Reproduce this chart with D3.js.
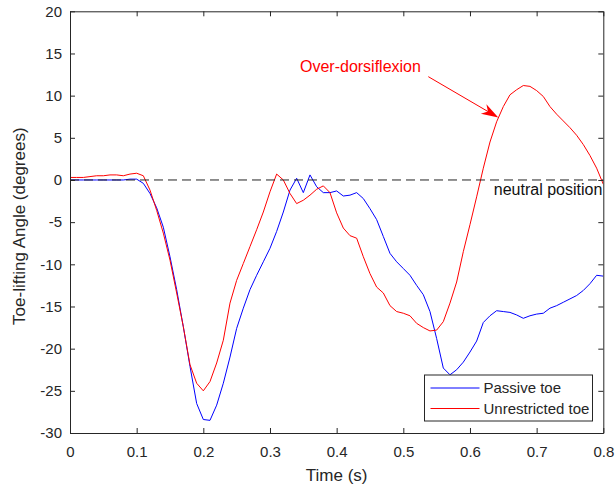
<!DOCTYPE html>
<html>
<head>
<meta charset="utf-8">
<script src="https://cdn.jsdelivr.net/npm/d3@7"></script>
<style>
body { margin: 0; background: #fff; }
svg text { font-family: "Liberation Sans", Arial, Helvetica, sans-serif; fill: #262626; }
</style>
</head>
<body>
<div class="chart"></div>
<script>
var margin = {top: 11.3, right: 12.7, bottom: 54, left: 70};
var width = 616 - margin.left - margin.right;
var height = 487 - margin.top - margin.bottom;

// sample times (s)
const times = [0.00, 0.01, 0.02, 0.03, 0.04, 0.05, 0.06, 0.07, 0.08, 0.09,
    0.10, 0.11, 0.12, 0.13, 0.14, 0.15, 0.16, 0.17, 0.18, 0.19,
    0.20, 0.21, 0.22, 0.23, 0.24, 0.25, 0.26, 0.27, 0.28, 0.29,
    0.30, 0.31, 0.32, 0.33, 0.34, 0.35, 0.36, 0.37, 0.38, 0.39,
    0.40, 0.41, 0.42, 0.43, 0.44, 0.45, 0.46, 0.47, 0.48, 0.49,
    0.50, 0.51, 0.52, 0.53, 0.54, 0.55, 0.56, 0.57, 0.58, 0.59,
    0.60, 0.61, 0.62, 0.63, 0.64, 0.65, 0.66, 0.67, 0.68, 0.69,
    0.70, 0.71, 0.72, 0.73, 0.74, 0.75, 0.76, 0.77, 0.78, 0.79, 0.80];

const passiveToe = [0, 0, 0, 0, 0, 0, 0, 0, 0, 0.1,
    0.1, -0.4, -1.6, -3.3, -5.6, -9.1, -13.0, -17.4, -22.1, -26.5,
    -28.4, -28.5, -26.7, -24.1, -21.0, -17.6, -15.2, -13.0, -11.3, -9.7,
    -8.1, -6.1, -3.8, -1.2, 0.2, -1.5, 0.6, -0.8, -1.5, -1.5,
    -1.3, -1.9, -1.8, -1.5, -2.2, -3.4, -4.7, -6.7, -8.7, -9.7,
    -10.5, -11.3, -12.5, -13.6, -15.6, -18.8, -22.3, -23.1, -22.5, -21.6,
    -20.4, -19.1, -16.9, -16.1, -15.5, -15.6, -15.7, -16.0, -16.4, -16.1,
    -15.9, -15.8, -15.2, -14.9, -14.5, -14.1, -13.7, -13.1, -12.3, -11.3, -11.4];

const unrestrictedToe = [0.3, 0.3, 0.3, 0.4, 0.5, 0.5, 0.6, 0.6, 0.5, 0.7,
    0.8, 0.5, -1.2, -3.6, -6.3, -9.5, -13.4, -17.4, -21.9, -24.1,
    -25.0, -23.9, -21.7, -19.0, -14.6, -11.9, -9.9, -7.9, -5.9, -3.8,
    -1.4, 0.7, 0.0, -1.6, -2.8, -2.4, -1.8, -1.1, -0.7, -1.5,
    -3.9, -5.7, -6.6, -6.9, -9.1, -11.1, -12.7, -13.4, -14.9, -15.6,
    -15.8, -16.1, -17.0, -17.5, -17.9, -17.8, -16.8, -14.6, -12.1, -8.5,
    -5.3, -2.0, 1.4, 4.5, 6.9, 8.7, 10.1, 10.7, 11.2, 11.1,
    10.6, 9.9, 8.7, 7.8, 7.0, 6.2, 5.3, 4.2, 2.9, 1.4, -0.5];

const seriesNames = ['Passive toe', 'Unrestricted toe'];
const seriesColors = ['#0000ff', '#ff0000'];

const xTicks = [0, 0.1, 0.2, 0.3, 0.4, 0.5, 0.6, 0.7, 0.8];
const yTicks = [-30, -25, -20, -15, -10, -5, 0, 5, 10, 15, 20];

// annotation: text, arrow tail, arrow head (data coords)
const arrowLabel = 'Over-dorsiflexion';
const arrowTail = [0.5375, 12.25];
const arrowHead = [0.6425, 7.4];
const labelPos = [0.345, 12.8];
const neutralLabel = 'neutral position';

var xScale = d3.scaleLinear().domain([0, 0.8]).range([0, width]);
var yScale = d3.scaleLinear().domain([-30, 20]).range([height, 0]);

var svg = d3.select('.chart').append('svg')
    .attr('width', 616)
    .attr('height', 487)
    .append('g')
    .attr('transform', `translate(${margin.left},${margin.top})`);

svg.append('defs').append('clipPath')
    .attr('id', 'plot-clip')
    .append('rect')
    .attr('width', width)
    .attr('height', height);

var line = d3.line()
    .x((d, i) => xScale(times[i]))
    .y(d => yScale(d));

var linesG = svg.append('g').attr('clip-path', 'url(#plot-clip)');
[passiveToe, unrestrictedToe].forEach((values, i) => {
    linesG.append('path')
        .datum(values)
        .attr('fill', 'none')
        .attr('stroke', seriesColors[i])
        .attr('stroke-width', 1)
        .attr('d', line);
});

// neutral position dashed line
linesG.append('line')
    .attr('x1', xScale(0))
    .attr('x2', xScale(0.8))
    .attr('y1', yScale(0))
    .attr('y2', yScale(0))
    .attr('stroke', '#222')
    .attr('stroke-width', 1)
    .attr('stroke-dasharray', '9,5');

svg.append('text')
    .attr('x', xScale(0.8) - 1)
    .attr('y', yScale(0) + 15)
    .attr('text-anchor', 'end')
    .style('font-size', '16px')
    .style('fill', '#111')
    .text(neutralLabel);

function styleAxis(g) {
    g.attr('font-size', null).attr('font-family', null);
    g.select('.domain').attr('stroke', '#262626');
    g.selectAll('.tick line').attr('stroke', '#262626');
    g.selectAll('.tick text').style('font-size', '15px');
}

// plain hyphen minus, like the original figure
const plainFormat = d => String(d);

svg.append('g')
    .attr('transform', `translate(0,${height})`)
    .call(d3.axisBottom(xScale).tickValues(xTicks).tickFormat(plainFormat).tickSize(-5).tickSizeOuter(0).tickPadding(13))
    .call(styleAxis);

svg.append('g')
    .call(d3.axisLeft(yScale).tickValues(yTicks).tickFormat(plainFormat).tickSize(-5).tickSizeOuter(0).tickPadding(8))
    .call(styleAxis);

svg.append('g')
    .call(d3.axisTop(xScale).tickValues(xTicks).tickFormat('').tickSize(-5).tickSizeOuter(0))
    .call(styleAxis);

svg.append('g')
    .attr('transform', `translate(${width},0)`)
    .call(d3.axisRight(yScale).tickValues(yTicks).tickFormat('').tickSize(-5).tickSizeOuter(0))
    .call(styleAxis);

// axis labels
svg.append('text')
    .attr('x', width / 2)
    .attr('y', height + 48)
    .attr('text-anchor', 'middle')
    .style('font-size', '17px')
    .text('Time (s)');

svg.append('text')
    .attr('transform', `translate(${-45},${height / 2 + 4}) rotate(-90)`)
    .attr('text-anchor', 'middle')
    .style('font-size', '17px')
    .text('Toe-lifting Angle (degrees)');

// annotation arrow
var tx = xScale(arrowTail[0]), ty = yScale(arrowTail[1]);
var hx = xScale(arrowHead[0]), hy = yScale(arrowHead[1]);
var ang = Math.atan2(hy - ty, hx - tx);
var headLen = 17, headHalf = 5.5, headBack = 12;
function pt(along, across) {
    return [hx - along * Math.cos(ang) - across * Math.sin(ang),
            hy - along * Math.sin(ang) + across * Math.cos(ang)];
}
svg.append('line')
    .attr('x1', tx).attr('y1', ty)
    .attr('x2', pt(headBack, 0)[0]).attr('y2', pt(headBack, 0)[1])
    .attr('stroke', '#ff0000')
    .attr('stroke-width', 1);
svg.append('path')
    .attr('d', 'M' + [[hx, hy], pt(headLen, headHalf), pt(headBack, 0), pt(headLen, -headHalf)].map(p => p.join(',')).join('L') + 'Z')
    .attr('fill', '#ff0000');

svg.append('text')
    .attr('x', xScale(labelPos[0]))
    .attr('y', yScale(labelPos[1]))
    .style('font-size', '16px')
    .style('fill', '#ff0000')
    .text(arrowLabel);

// legend
var legend = svg.append('g')
    .attr('transform', `translate(${424.5 - margin.left},${375 - margin.top})`);
legend.append('rect')
    .attr('width', 168)
    .attr('height', 46)
    .attr('fill', '#fff')
    .attr('stroke', '#262626')
    .attr('stroke-width', 1);
seriesNames.forEach((name, i) => {
    var yy = 13 + i * 20.5;
    legend.append('line')
        .attr('x1', 6).attr('x2', 55)
        .attr('y1', yy).attr('y2', yy)
        .attr('stroke', seriesColors[i])
        .attr('stroke-width', 1);
    legend.append('text')
        .attr('x', 59)
        .attr('y', yy + 5)
        .style('font-size', '15px')
        .text(name);
});
</script>
</body>
</html>
